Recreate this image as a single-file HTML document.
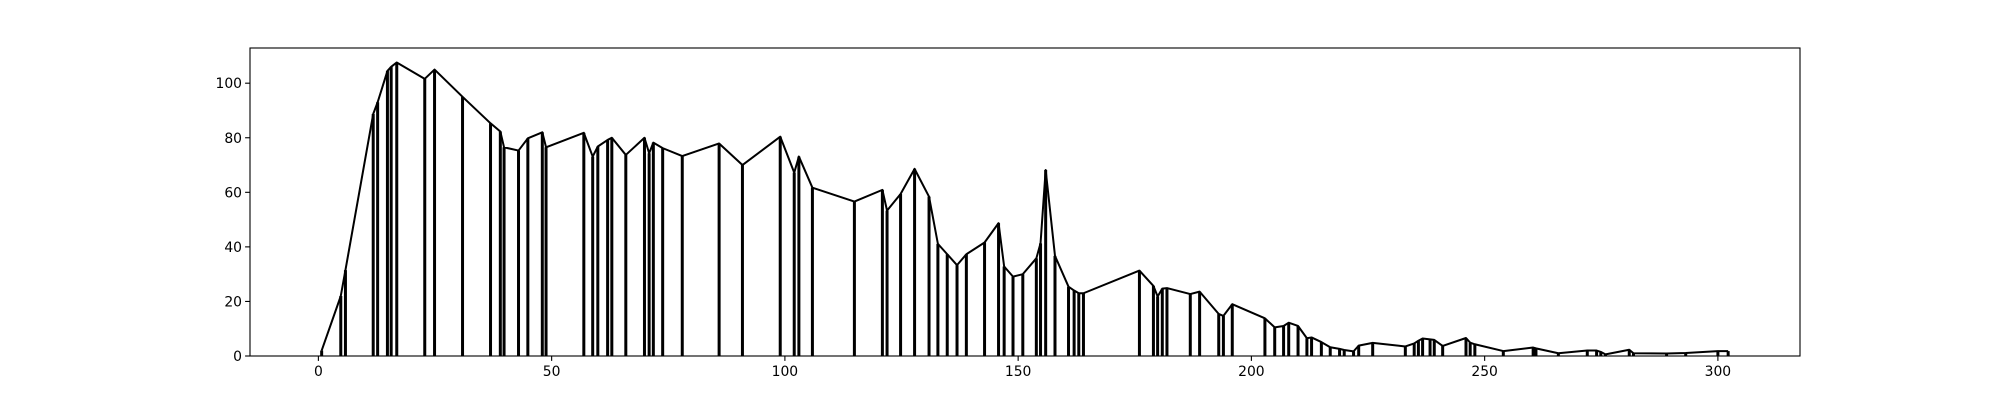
<!DOCTYPE html>
<html><head><meta charset="utf-8"><style>
html,body{margin:0;padding:0;background:#fff;width:2000px;height:400px;overflow:hidden}
svg text{font-family:"DejaVu Sans","Liberation Sans",sans-serif;font-size:13.9px;fill:#000}
</style></head><body>
<svg id="chart" width="2000" height="400" xmlns="http://www.w3.org/2000/svg">
<rect x="0" y="0" width="2000" height="400" fill="#fff"/>
<g id="marks"></g>
<g id="axes"></g>
</svg>
<script>
const xValues=[0.7,4.8,5.8,11.75,12.7,14.8,15.6,16.8,22.8,24.9,30.9,36.9,39,39.8,42.9,44.9,48,48.8,56.9,58.8,59.9,62,62.9,65.9,69.9,70.9,71.8,73.8,78,85.9,90.9,99,102,103,105.9,114.9,120.9,121.9,124.8,127.8,130.9,132.8,134.8,136.9,138.9,142.8,145.8,147,148.9,151,153.9,154.8,155.9,157.9,160.8,162,163,164,176,179,179.9,180.9,181.9,186.9,188.9,193,194,195.9,202.9,205,206.9,208,210,211.9,212.9,215,216.9,218.9,219.9,221.9,223,226,233,234.9,235.8,236.7,238.3,239.2,241,246,246.9,247.9,254,260.4,261,265.8,272,274,274.9,275.9,281,281.9,289,293.1,300,302.2];
const yValues=[2,22,31.5,88.7,93,104.5,106,107.6,101.6,105,95,85.3,82.3,76.5,75.3,79.8,82,76.5,81.8,73.1,76.8,79.2,80,73.7,80,74.3,78.2,76.2,73.3,77.9,70,80.4,67.2,73.1,61.7,56.6,60.9,53.3,59.4,68.6,58.4,41.1,37.3,33.3,37.3,41.6,48.7,32.8,29.1,30,35.8,41.3,68.2,36.7,25.4,24,23,23,31.3,25.7,21.8,24.7,24.9,22.7,23.6,15.4,14.7,19,13.8,10.5,11,12.2,11,6.5,6.8,5.1,3.2,2.6,2.2,1.7,3.8,4.8,3.5,4.6,5.6,6.4,6.1,5.9,3.7,6.6,4.9,4.3,1.8,3.1,2.8,1,2,2,1.5,0.6,2.3,1,0.9,1.1,1.8,1.8];
const xTicks=[0,50,100,150,200,250,300];
const yTicks=[0,20,40,60,80,100];

const L=250,R=1800,T=48,B=356;
const xMin=-14.66,xMax=317.6,yMin=0,yMax=112.9;
const sx=v=>L+(v-xMin)/(xMax-xMin)*(R-L);
const sy=v=>B-(v-yMin)/(yMax-yMin)*(B-T);
const NS="http://www.w3.org/2000/svg";
const marks=document.getElementById('marks');
const axes=document.getElementById('axes');
function mk(tag,attrs,parent){const e=document.createElementNS(NS,tag);for(const k in attrs)e.setAttribute(k,attrs[k]);parent.appendChild(e);return e;}

xValues.forEach((x,i)=>{
  const l=mk('line',{x1:sx(x),x2:sx(x),y1:sy(0),y2:sy(yValues[i]),stroke:'#000','stroke-width':3},marks);
  
  
});
const pl=mk('polyline',{points:xValues.map((x,i)=>sx(x)+','+sy(yValues[i])).join(' '),fill:'none',stroke:'#000','stroke-width':2,'stroke-linejoin':'round'},marks);



const frame=mk('rect',{x:L,y:T,width:R-L,height:B-T,fill:'none',stroke:'#000','stroke-width':1.1},axes);



xTicks.forEach(t=>{
  const x=sx(t);
  const tk=mk('line',{x1:x,x2:x,y1:B,y2:B+4.9,stroke:'#000','stroke-width':1.1},axes);
  
  
  const tx=mk('text',{x:x,y:B+20,'text-anchor':'middle'},axes);
  tx.textContent=t;
  
  
});
yTicks.forEach(t=>{
  const y=sy(t);
  const tk=mk('line',{x1:L-4.9,x2:L,y1:y,y2:y,stroke:'#000','stroke-width':1.1},axes);
  
  
  const tx=mk('text',{x:L-8,y:y+5,'text-anchor':'end'},axes);
  tx.textContent=t;
  
  
});
</script>
</body></html>
